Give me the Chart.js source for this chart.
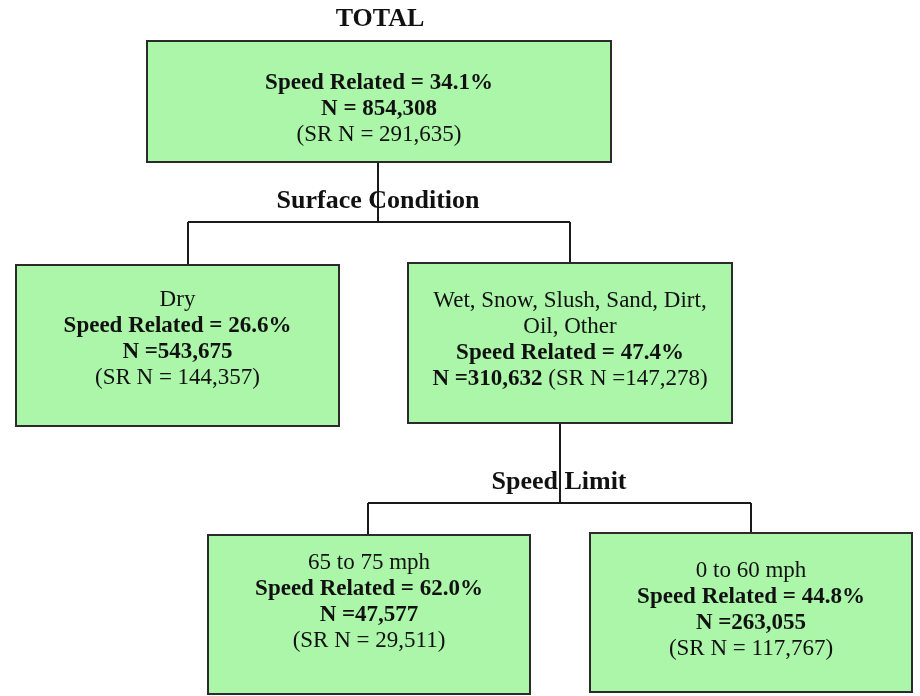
<!DOCTYPE html>
<html>
<head>
<meta charset="utf-8">
<title>Speed related crashes by surface condition and speed limit</title>
<script src="https://cdn.jsdelivr.net/npm/chart.js@4.4.0/dist/chart.umd.min.js"></script>
<style>
  html, body { margin: 0; padding: 0; background: #ffffff; }
  #wrap { width: 920px; height: 696px; }
</style>
</head>
<body>
<div id="wrap"><canvas id="tree" width="920" height="696"></canvas></div>
<script>
// tree data
const nodeNames = ['TOTAL', 'Dry', 'Wet, Snow, Slush, Sand, Dirt, Oil, Other', '65 to 75 mph', '0 to 60 mph'];
const speedRelatedPct = [34.1, 26.6, 47.4, 62.0, 44.8];
const totalN = [854308, 543675, 310632, 47577, 263055];
const srN = [291635, 144357, 147278, 29511, 117767];
const parentIndex = [null, 0, 0, 2, 2];
const splitLabels = ['Surface Condition', 'Speed Limit'];
const splitParents = [0, 2];

// layout, in scale units (0..920 by 0..696)
const boxes = [
  { x0: 147, x1: 611, y0: 41, y1: 162, textTop: 89 },
  { x0: 16, x1: 339, y0: 265, y1: 426, textTop: 306 },
  { x0: 408, x1: 732, y0: 263, y1: 423, textTop: 307 },
  { x0: 208, x1: 530, y0: 535, y1: 694, textTop: 569 },
  { x0: 590, x1: 912, y0: 533, y1: 692, textTop: 577 },
];
const stemX = { 0: 378, 2: 560 };          // line leaving a parent box
const dropX = [null, 188, 570, 368, 751];  // line entering a child box
const barY = { 0: 222, 2: 503 };
const lineGap = 26;

const fmt = (v) => v.toLocaleString('en-US');

// lines of text per node, each line a list of [text, bold] runs
function nodeLines(i) {
  const pct = [['Speed Related = ' + speedRelatedPct[i].toFixed(1) + '%', true]];
  if (i === 0) {
    return [pct, [['N = ' + fmt(totalN[i]), true]], [['(SR N = ' + fmt(srN[i]) + ')', false]]];
  }
  if (i === 2) {
    return [
      [['Wet, Snow, Slush, Sand, Dirt,', false]],
      [['Oil, Other', false]],
      pct,
      [['N =' + fmt(totalN[i]), true], [' (SR N =' + fmt(srN[i]) + ')', false]],
    ];
  }
  return [[[nodeNames[i], false]], pct, [['N =' + fmt(totalN[i]), true]], [['(SR N = ' + fmt(srN[i]) + ')', false]]];
}

// connector lines built from the layout
const connectorSets = [];
splitParents.forEach((p) => {
  const kids = parentIndex.map((q, i) => (q === p ? i : -1)).filter((i) => i >= 0);
  const xs = kids.map((k) => dropX[k]);
  connectorSets.push([{ x: stemX[p], y: boxes[p].y1 }, { x: stemX[p], y: barY[p] }]);
  connectorSets.push([{ x: Math.min(...xs), y: barY[p] }, { x: Math.max(...xs), y: barY[p] }]);
  kids.forEach((k) => {
    connectorSets.push([{ x: dropX[k], y: barY[p] }, { x: dropX[k], y: boxes[k].y0 }]);
  });
});

const SERIF = '"Liberation Serif", "Times New Roman", serif';

const treePlugin = {
  id: 'treeBoxes',
  afterDatasetsDraw(chart) {
    const ctx = chart.ctx;
    const xs = chart.scales.x, ys = chart.scales.y;
    ctx.save();

    // title and split labels
    ctx.fillStyle = '#111';
    ctx.textAlign = 'center';
    ctx.textBaseline = 'alphabetic';
    ctx.font = 'bold 26px ' + SERIF;
    ctx.fillText(nodeNames[0], xs.getPixelForValue(380), ys.getPixelForValue(26));
    splitParents.forEach((p, j) => {
      const cx = j === 0 ? 378 : 559;
      ctx.fillText(splitLabels[j], xs.getPixelForValue(cx), ys.getPixelForValue(barY[p] - 14));
    });

    boxes.forEach((b, i) => {
      const left = xs.getPixelForValue(b.x0), right = xs.getPixelForValue(b.x1);
      const top = ys.getPixelForValue(b.y0), bottom = ys.getPixelForValue(b.y1);
      ctx.fillStyle = '#abf6a9';
      ctx.fillRect(left, top, right - left, bottom - top);
      ctx.lineWidth = 2;
      ctx.strokeStyle = '#2b2b2b';
      ctx.strokeRect(left, top, right - left, bottom - top);

      const cx = (left + right) / 2;
      nodeLines(i).forEach((runs, li) => {
        const y = ys.getPixelForValue(b.textTop + li * lineGap);
        let w = 0;
        runs.forEach(([t, bold]) => {
          ctx.font = (bold ? 'bold ' : '') + '23px ' + SERIF;
          w += ctx.measureText(t).width;
        });
        let x = cx - w / 2;
        ctx.textAlign = 'left';
        ctx.fillStyle = '#111';
        runs.forEach(([t, bold]) => {
          ctx.font = (bold ? 'bold ' : '') + '23px ' + SERIF;
          ctx.fillText(t, x, y);
          x += ctx.measureText(t).width;
        });
      });
    });
    ctx.restore();
  },
};

new Chart(document.getElementById('tree'), {
  type: 'scatter',
  data: {
    datasets: connectorSets.map((pts) => ({
      data: pts,
      showLine: true,
      borderColor: '#1a1a1a',
      borderWidth: 2,
      pointRadius: 0,
      fill: false,
    })),
  },
  options: {
    responsive: false,
    animation: false,
    layout: { padding: 0 },
    scales: {
      x: { type: 'linear', min: 0, max: 920, display: false },
      y: { type: 'linear', min: 0, max: 696, reverse: true, display: false },
    },
    plugins: {
      legend: { display: false },
      tooltip: { enabled: false },
    },
  },
  plugins: [treePlugin],
});
</script>
</body>
</html>
